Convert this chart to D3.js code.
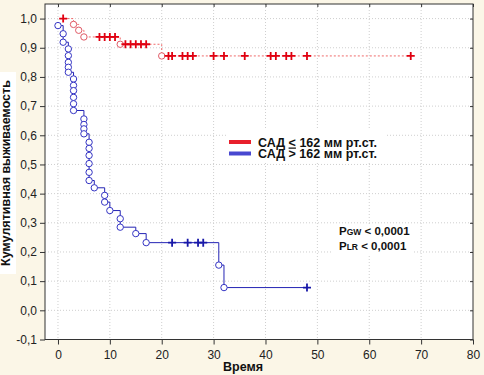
<!DOCTYPE html>
<html lang="ru">
<head>
<meta charset="utf-8">
<title>Kaplan-Meier</title>
<script src="https://cdn.jsdelivr.net/npm/d3@7"></script>
<style>
  body { margin: 0; background: #fbf6e7; }
  svg { display: block; font-family: Arial, "Liberation Sans", sans-serif; }
</style>
</head>
<body>
<script>
// data
var xTicks = [0, 10, 20, 30, 40, 50, 60, 70, 80];
var yTicks = d3.range(-1, 11).map(function(i) { return i / 10; });

// red group: time, survival, censored (1) / event (0)
var redT = [1, 3, 4, 5, 8, 9, 10, 11, 12, 13, 14, 15, 16, 17, 20, 21.3, 22, 24, 25, 26, 30, 32, 36, 41, 42, 44, 45, 48, 68];
var redS = [1.0, 0.98, 0.96, 0.937, 0.937, 0.937, 0.937, 0.937, 0.912, 0.912, 0.912, 0.912, 0.912, 0.912,
            0.872, 0.872, 0.872, 0.872, 0.872, 0.872, 0.872, 0.872, 0.872, 0.872, 0.872, 0.872, 0.872, 0.872, 0.872];
var redC = [1, 0, 0, 0, 1, 1, 1, 1, 0, 1, 1, 1, 1, 1, 0, 1, 1, 1, 1, 1, 1, 1, 1, 1, 1, 1, 1, 1, 1];

// blue group
var blueT = [0, 1, 1, 2, 2, 2, 2, 2, 3, 3, 3, 3, 3, 3, 5, 5, 5, 5, 6, 6, 6, 6, 6, 6, 7, 9, 9, 10, 12, 12, 15, 17,
             22, 25, 27, 28, 31, 32, 48];
var blueS = [0.976, 0.948, 0.919, 0.896, 0.873, 0.850, 0.833, 0.816, 0.793, 0.771, 0.753, 0.730, 0.708, 0.685,
             0.656, 0.637, 0.622, 0.605, 0.576, 0.555, 0.531, 0.503, 0.473, 0.445, 0.420, 0.394, 0.371, 0.342,
             0.314, 0.285, 0.263, 0.232, 0.232, 0.232, 0.232, 0.232, 0.155, 0.078, 0.078];
var blueC = [0, 0, 0, 0, 0, 0, 0, 0, 0, 0, 0, 0, 0, 0, 0, 0, 0, 0, 0, 0, 0, 0, 0, 0, 0, 0, 0, 0, 0, 0, 0, 0,
             1, 1, 1, 1, 0, 0, 1];

var legendLabels = ["САД ", "САД > 162 мм рт.ст."];

var w = 484, h = 375;
var pL = 45, pR = 473, pT = 4, pB = 339.5;

var svg = d3.select("body").append("svg").attr("width", w).attr("height", h);

var x = d3.scaleLinear().domain([-2.5, 80]).range([pL, pR]);
var y = d3.scaleLinear().domain([-0.1, 1.05]).range([pB, pT]);
var fmt = function(v) { return v.toFixed(1).replace(".", ","); };

// white box behind y label
svg.append("rect").attr("x", 0).attr("y", 72).attr("width", 16).attr("height", 202).attr("fill", "white");

// plot area
svg.append("rect").attr("x", pL).attr("y", pT).attr("width", pR - pL).attr("height", pB - pT)
  .attr("fill", "white");

// grid
var grid = svg.append("g").attr("stroke", "#cfcfcf").attr("stroke-dasharray", "1,2");
grid.selectAll("line.v").data(xTicks.slice(0, -1)).enter().append("line")
  .attr("x1", function(d) { return x(d); }).attr("x2", function(d) { return x(d); })
  .attr("y1", pT).attr("y2", pB);
grid.selectAll("line.h").data(yTicks.slice(1)).enter().append("line")
  .attr("x1", pL).attr("x2", pR)
  .attr("y1", function(d) { return y(d); }).attr("y2", function(d) { return y(d); });

// white boxes behind legend and p-values
svg.append("rect").attr("x", 227).attr("y", 128).attr("width", 160).attr("height", 34).attr("fill", "white");
svg.append("rect").attr("x", 333).attr("y", 224).attr("width", 80).attr("height", 30).attr("fill", "white");

// axes
svg.append("g").attr("transform", "translate(" + pL + ",0)")
  .call(d3.axisLeft(y).tickValues(yTicks).tickSize(5).tickPadding(3).tickFormat(fmt))
  .call(function(g) { g.select(".domain").remove(); });
svg.append("g").attr("transform", "translate(0," + pB + ")")
  .call(d3.axisBottom(x).tickValues(xTicks).tickSize(5).tickPadding(5.5).tickFormat(d3.format("d")))
  .call(function(g) { g.select(".domain").remove(); });
svg.append("g").attr("transform", "translate(0," + pT + ")")
  .call(d3.axisTop(x).tickValues(xTicks).tickSize(-3).tickFormat(""))
  .call(function(g) { g.select(".domain").remove(); });
svg.append("g").attr("transform", "translate(" + pR + ",0)")
  .call(d3.axisRight(y).tickValues(yTicks).tickSize(-3).tickFormat(""))
  .call(function(g) { g.select(".domain").remove(); });
svg.selectAll(".tick line").attr("stroke", "#333");
svg.selectAll(".tick text").attr("font-size", 12).attr("fill", "#222")
  .attr("font-family", "Arial, 'Liberation Sans', sans-serif");

// curves
var line = d3.line().curve(d3.curveStepAfter)
  .x(function(d) { return x(d[0]); }).y(function(d) { return y(d[1]); });

function series(T, S, C, lineColor, dash, markColor, circColor) {
  var pts = T.map(function(t, i) { return [t, S[i], C[i]]; });
  var g = svg.append("g");
  g.append("path").attr("d", line(pts)).attr("fill", "none")
    .attr("stroke", lineColor).attr("stroke-width", 1).attr("stroke-dasharray", dash);
  g.selectAll("circle").data(pts.filter(function(d) { return !d[2]; })).enter().append("circle")
    .attr("cx", function(d) { return x(d[0]); }).attr("cy", function(d) { return y(d[1]); })
    .attr("r", 3.2).attr("fill", "white").attr("stroke", circColor).attr("stroke-width", 1);
  g.selectAll("path.plus").data(pts.filter(function(d) { return d[2]; })).enter().append("path")
    .attr("class", "plus")
    .attr("d", function(d) {
      var cx = x(d[0]), cy = y(d[1]);
      return "M" + (cx - 4) + "," + cy + "H" + (cx + 4) + "M" + cx + "," + (cy - 4) + "V" + (cy + 4);
    })
    .attr("stroke", markColor).attr("stroke-width", 1.8);
}
series(redT, redS, redC, "#f06a6a", "2,2", "#e00010", "#e05a66");
series(blueT, blueS, blueC, "#2424b4", null, "#1818a8", "#3434c4");

// frame
svg.append("rect").attr("x", pL).attr("y", pT).attr("width", pR - pL).attr("height", pB - pT)
  .attr("fill", "none").attr("stroke", "#333").attr("stroke-width", 1);

// legend
svg.append("line").attr("x1", 229).attr("x2", 251).attr("y1", 142).attr("y2", 142)
  .attr("stroke", "#e8202c").attr("stroke-width", 4);
svg.append("line").attr("x1", 229).attr("x2", 251).attr("y1", 153.5).attr("y2", 153.5)
  .attr("stroke", "#4848d0").attr("stroke-width", 4);
var t1 = svg.append("text").attr("x", 258).attr("y", 146.5).attr("font-size", 12.5).attr("font-weight", "bold")
  .attr("fill", "#111");
t1.append("tspan").text(legendLabels[0]);
t1.append("tspan").attr("text-decoration", "underline").text("<");
t1.append("tspan").text(" 162 мм рт.ст.");
svg.append("text").attr("x", 258).attr("y", 158.3).attr("font-size", 12.5).attr("font-weight", "bold")
  .attr("fill", "#111").text(legendLabels[1]);

// p-values
[["GW", 235.3], ["LR", 249.5]].forEach(function(p) {
  var t = svg.append("text").attr("x", 339).attr("y", p[1]).attr("font-size", 11.5).attr("font-weight", "bold")
    .attr("fill", "#111");
  t.append("tspan").text("P");
  t.append("tspan").attr("font-size", 8.5).text(p[0]);
  t.append("tspan").text(" < 0,0001");
});

// axis titles
svg.append("text").attr("x", 243).attr("y", 371).attr("text-anchor", "middle")
  .attr("font-size", 12.5).attr("font-weight", "bold").attr("fill", "#111").text("Время");
svg.append("text").attr("transform", "translate(10,173) rotate(-90)").attr("text-anchor", "middle")
  .attr("font-size", 12.5).attr("font-weight", "bold").attr("fill", "#111").text("Кумулятивная выживаемость");
</script>
</body>
</html>
